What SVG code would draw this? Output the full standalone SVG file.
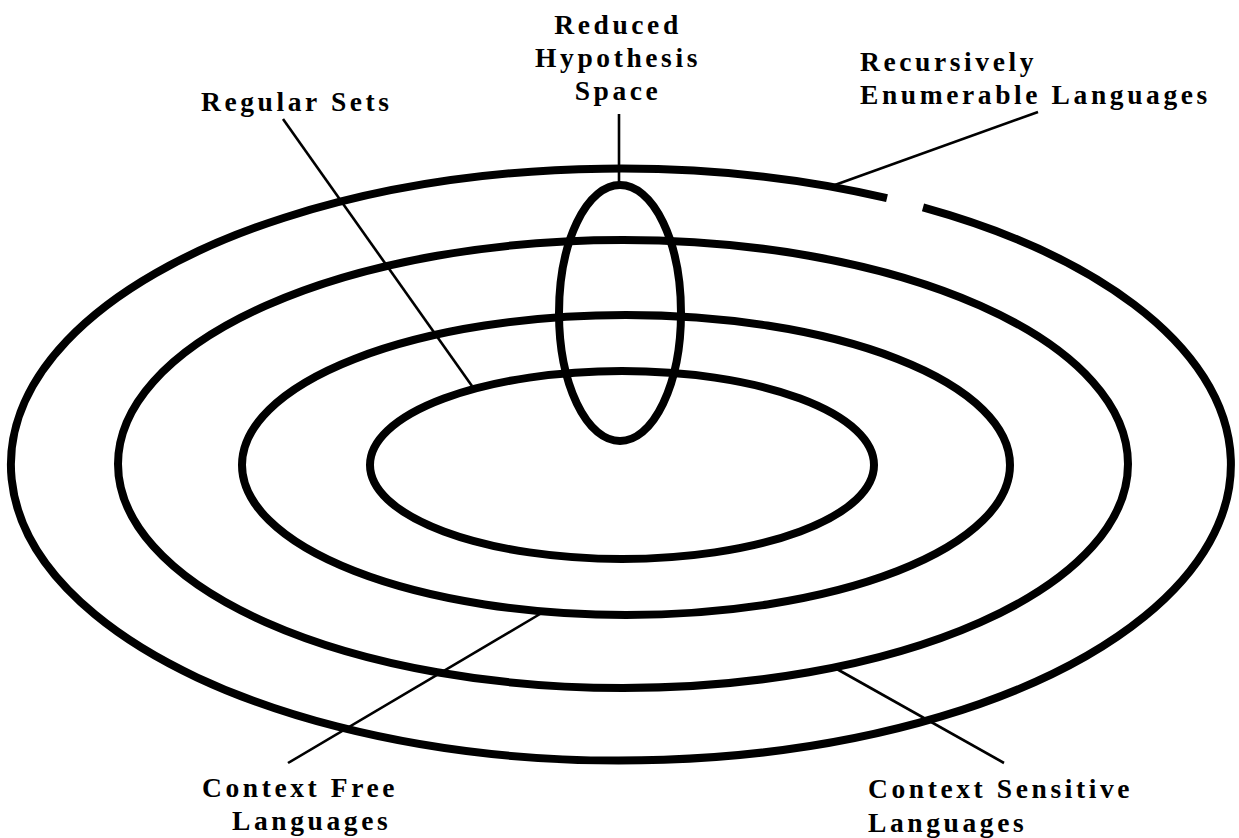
<svg xmlns="http://www.w3.org/2000/svg" width="1239" height="838" viewBox="0 0 1239 838">
<style>
.ring{fill:none;stroke:#000;stroke-width:8}
.lead{fill:none;stroke:#000;stroke-width:2.6}
.lbl{font-family:"Liberation Serif","Times New Roman",serif;font-weight:bold;font-size:27.5px;letter-spacing:3.6px;fill:#000}
</style>
<rect width="1239" height="838" fill="#fff"/>
<g id="recursively-enumerable">
<path class="ring" d="M 887 198.2 A 610 296 0 1 0 923 207.4"/>
</g>
<g id="context-sensitive">
<ellipse class="ring" cx="623" cy="464" rx="505" ry="224"/>
</g>
<g id="context-free">
<ellipse class="ring" cx="626" cy="465" rx="384" ry="150"/>
</g>
<g id="regular-sets">
<ellipse class="ring" cx="622" cy="465" rx="252" ry="94"/>
</g>
<g id="reduced-hypothesis-space">
<ellipse class="ring" cx="620" cy="313" rx="61" ry="128"/>
</g>
<g id="connectors">
<line class="lead" x1="283" y1="119" x2="472" y2="386"/>
<line class="lead" x1="619" y1="114" x2="619" y2="185"/>
<line class="lead" x1="1038" y1="112" x2="832" y2="186"/>
<line class="lead" x1="288" y1="763" x2="540" y2="614"/>
<line class="lead" x1="835" y1="668" x2="1004" y2="763"/>
</g>
<g id="labels">
<text class="lbl" x="201" y="111">Regular Sets</text>
<text class="lbl" x="618" y="34" text-anchor="middle">Reduced</text>
<text class="lbl" x="618" y="67" text-anchor="middle">Hypothesis</text>
<text class="lbl" x="618" y="100" text-anchor="middle">Space</text>
<text class="lbl" x="860" y="71">Recursively</text>
<text class="lbl" x="860" y="104">Enumerable Languages</text>
<text class="lbl" x="202" y="797">Context Free</text>
<text class="lbl" x="232" y="830">Languages</text>
<text class="lbl" x="868" y="798">Context Sensitive</text>
<text class="lbl" x="868" y="832">Languages</text>
</g>
</svg>
